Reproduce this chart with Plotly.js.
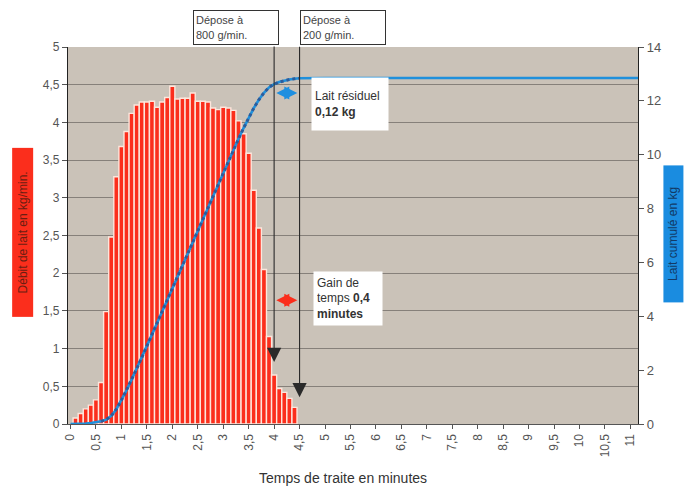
<!DOCTYPE html>
<html>
<head>
<meta charset="utf-8">
<script src="https://cdn.plot.ly/plotly-3.0.1.min.js"></script>
<style>
  html, body { margin: 0; padding: 0; background: #ffffff; }
  #chart { width: 685px; height: 486px; }
</style>
</head>
<body>
<div id="chart"></div>
<script>
// ---- Data ----
const flowTimes = [0.1,0.2,0.3,0.4,0.5,0.6,0.7,0.8,0.9,1.0,1.1,1.2,1.3,1.4,1.5,1.6,1.7,1.8,1.9,2.0,
                   2.1,2.2,2.3,2.4,2.5,2.6,2.7,2.8,2.9,3.0,3.1,3.2,3.3,3.4,3.5,3.6,3.7,3.8,3.9,4.0,
                   4.1,4.2,4.3,4.4];
const flowKgMin = [0.08,0.14,0.2,0.25,0.32,0.55,1.49,2.48,3.28,3.68,3.88,4.12,4.23,4.27,4.27,4.28,4.2,4.27,4.33,4.48,
                   4.31,4.32,4.32,4.39,4.28,4.28,4.27,4.19,4.17,4.2,4.19,4.16,4.02,3.85,3.59,3.1,2.6,2.05,1.16,0.65,
                   0.47,0.42,0.34,0.22];

const cumTimes = [0,0.1,0.2,0.3,0.4,0.5,0.6,0.7,0.8,0.9,1.0,1.1,1.2,1.3,1.4,1.5,1.6,1.7,1.8,1.9,
                  2.0,2.1,2.2,2.3,2.4,2.5,2.6,2.7,2.8,2.9,3.0,3.1,3.2,3.3,3.4,3.5,3.6,3.7,3.8,3.9,
                  4.0,4.1,4.2,4.3,4.4,4.5,5,6,7,8,9,10,11,11.15];
const cumKg = [0,0,0.01,0.02,0.04,0.07,0.1,0.16,0.3,0.55,0.88,1.25,1.65,2.05,2.47,2.9,3.32,3.75,4.15,4.6,
               5.03,5.48,5.91,6.34,6.77,7.21,7.64,8.07,8.5,8.92,9.33,9.75,10.17,10.59,10.99,11.37,11.73,12.04,12.3,12.5,
               12.62,12.7,12.75,12.79,12.82,12.84,12.85,12.85,12.85,12.85,12.85,12.85,12.85,12.85];

const xTickVals = [0,0.5,1,1.5,2,2.5,3,3.5,4,4.5,5,5.5,6,6.5,7,7.5,8,8.5,9,9.5,10,10.5,11];
const xTickText = ["0","0,5","1","1,5","2","2,5","3","3,5","4","4,5","5","5,5","6","6,5","7","7,5","8","8,5","9","9,5","10","10,5","11"];
const yTickVals = [0,0.5,1,1.5,2,2.5,3,3.5,4,4.5,5];
const yTickText = ["0","0,5","1","1,5","2","2,5","3","3,5","4","4,5","5"];
const y2TickVals = [0,2,4,6,8,10,12,14];
const y2TickText = ["0","2","4","6","8","10","12","14"];

const xTitle = "Temps de traite en minutes";
const yTitle = "Débit de lait en kg/min.";
const y2Title = "Lait cumulé en kg";

// dotted overlay segment of the cumulative curve
const dotT = [], dotK = [];
cumTimes.forEach((t, i) => { if (t >= 0.6 && t <= 4.5) { dotT.push(t); dotK.push(cumKg[i]); } });

const FONT = "'Liberation Sans', Arial, sans-serif";

const traces = [
  {
    type: 'bar', x: flowTimes, y: flowKgMin, width: 0.1,
    marker: { color: '#fb2e1c', line: { color: '#fde6dc', width: 1.4 } },
    hoverinfo: 'x+y', showlegend: false
  },
  {
    type: 'scatter', mode: 'lines', x: cumTimes, y: cumKg, yaxis: 'y2',
    line: { color: '#1f90dc', width: 2.6 }, showlegend: false
  },
  {
    type: 'scatter', mode: 'lines', x: dotT, y: dotK, yaxis: 'y2',
    line: { color: '#2d5c9a', width: 3, dash: 'dot' }, showlegend: false
  }
];

function doubleArrow(xc, yv, color) {
  const halfPx = 10.5, pxPerMin = 50.9;
  const common = { xref: 'x', yref: 'y', y: yv, ay: 0, axref: 'pixel', ayref: 'pixel', text: '',
                   showarrow: true, arrowhead: 2, arrowsize: 1, arrowwidth: 2.6, arrowcolor: color };
  return [
    Object.assign({}, common, { x: xc + halfPx / pxPerMin, ax: -halfPx }),
    Object.assign({}, common, { x: xc - halfPx / pxPerMin, ax: halfPx })
  ];
}

const arrowColor = '#2a2a2a';
const layout = {
  width: 685, height: 486,
  margin: { l: 68, r: 47, t: 47, b: 62 },
  paper_bgcolor: '#ffffff',
  plot_bgcolor: '#cac2b8',
  bargap: 0,
  showlegend: false,
  font: { family: FONT, color: '#444' },
  xaxis: {
    range: [-0.05, 11.15], tickmode: 'array', tickvals: xTickVals, ticktext: xTickText,
    tickangle: -90, tickfont: { size: 12, color: '#555' },
    ticks: 'outside', ticklen: 4, tickcolor: '#555',
    showgrid: false, zeroline: false,
    showline: true, linecolor: '#555', linewidth: 1.2
  },
  yaxis: {
    range: [0, 5], tickmode: 'array', tickvals: yTickVals, ticktext: yTickText,
    tickfont: { size: 12, color: '#555' },
    ticks: 'outside', ticklen: 5, tickcolor: '#555',
    showgrid: true, gridcolor: '#86807a', gridwidth: 1,
    zeroline: false, showline: true, linecolor: '#222', linewidth: 1.2
  },
  yaxis2: {
    range: [0, 14], overlaying: 'y', side: 'right',
    tickmode: 'array', tickvals: y2TickVals, ticktext: y2TickText,
    tickfont: { size: 13, color: '#555' },
    ticks: 'outside', ticklen: 5, tickcolor: '#555',
    showgrid: false, zeroline: false, showline: true, linecolor: '#222', linewidth: 1.2
  },
  annotations: [
    // x axis title
    { xref: 'paper', yref: 'paper', x: 0.482, y: -0.143, xanchor: 'center', yanchor: 'middle',
      text: xTitle, showarrow: false, font: { size: 14, color: '#333', family: FONT } },
    // left axis title with red box
    { xref: 'paper', yref: 'paper', x: -0.0798, y: 0.507, xanchor: 'center', yanchor: 'middle',
      text: yTitle, textangle: -90, showarrow: false, bgcolor: '#fb2e1c',
      width: 164, height: 16, borderpad: 2, font: { size: 12, color: '#6a1e12', family: FONT } },
    // right axis title with blue box
    { xref: 'paper', yref: 'paper', x: 1.063, y: 0.504, xanchor: 'center', yanchor: 'middle',
      text: y2Title, textangle: -90, showarrow: false, bgcolor: '#1a8ce0',
      width: 132, height: 15, borderpad: 2, font: { size: 12, color: '#123a66', family: FONT } },
    // top boxes
    { xref: 'x', yref: 'paper', x: 3.25, y: 1.052, xanchor: 'center', yanchor: 'middle',
      text: 'Dépose à<br>800 g/min.', align: 'left', showarrow: false,
      bgcolor: '#ffffff', bordercolor: '#333', borderwidth: 1, borderpad: 2, width: 80, height: 29,
      font: { size: 11, color: '#444', family: FONT } },
    { xref: 'x', yref: 'paper', x: 5.35, y: 1.052, xanchor: 'center', yanchor: 'middle',
      text: 'Dépose à<br>200 g/min.', align: 'left', showarrow: false,
      bgcolor: '#ffffff', bordercolor: '#333', borderwidth: 1, borderpad: 2, width: 80, height: 29,
      font: { size: 11, color: '#444', family: FONT } },
    // vertical arrows
    { xref: 'x', yref: 'paper', x: 4.0, y: 0.1645, ax: 0, ay: -317, axref: 'pixel', ayref: 'pixel',
      text: '', showarrow: true, arrowhead: 2, arrowsize: 2.6, arrowwidth: 1.1, arrowcolor: arrowColor },
    { xref: 'x', yref: 'paper', x: 4.5, y: 0.071, ax: 0, ay: -352, axref: 'pixel', ayref: 'pixel',
      text: '', showarrow: true, arrowhead: 2, arrowsize: 2.6, arrowwidth: 1.1, arrowcolor: arrowColor },
    // double arrows
    ...doubleArrow(4.25, 4.39, '#1e8fe0'),
    ...doubleArrow(4.25, 1.64, '#fb2e1c'),
    // text boxes
    { xref: 'x', yref: 'paper', x: 5.50, y: 0.850, xanchor: 'center', yanchor: 'middle',
      text: 'Lait résiduel<br><b>0,12 kg</b>', align: 'left', showarrow: false,
      bgcolor: '#ffffff', borderpad: 3, width: 70, height: 46,
      font: { size: 12, color: '#333', family: FONT } },
    { xref: 'x', yref: 'paper', x: 5.45, y: 0.3316, xanchor: 'center', yanchor: 'middle',
      text: 'Gain de<br>temps <b>0,4</b><br><b>minutes</b>', align: 'left', showarrow: false,
      bgcolor: '#ffffff', borderpad: 3, width: 62, height: 47,
      font: { size: 12, color: '#333', family: FONT } }
  ]
};

Plotly.newPlot('chart', traces, layout, { displayModeBar: false, staticPlot: true });
</script>
</body>
</html>
